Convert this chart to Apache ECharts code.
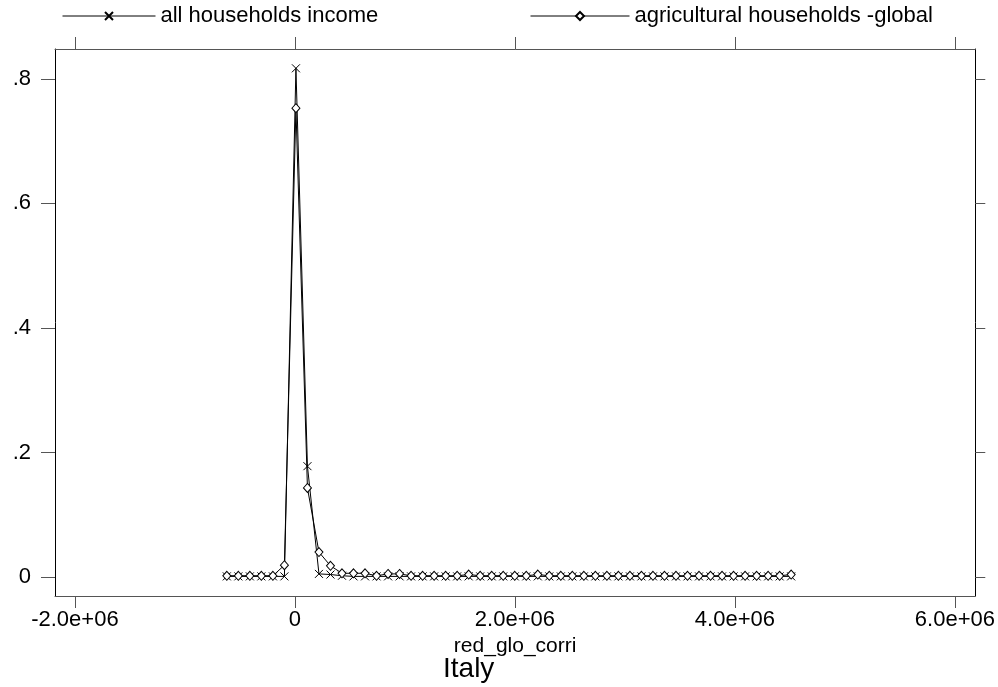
<!DOCTYPE html>
<html>
<head>
<meta charset="utf-8">
<script src="https://cdn.jsdelivr.net/npm/echarts@6/dist/echarts.min.js"></script>
<style>
  html, body { margin: 0; padding: 0; background: #fff; }
  #chart { width: 998px; height: 687px; }
</style>
</head>
<body>
<div id="chart"></div>
<script>
// red_glo_corri bin midpoints
var binX = [
    -619000, -514300, -409600, -304900, -200200, -95500, 9200, 113900, 218600, 323300,
    428000, 532700, 637400, 742100, 846800, 951500, 1056200, 1160900, 1265600, 1370300,
    1475000, 1579700, 1684400, 1789100, 1893800, 1998500, 2103200, 2207900, 2312600, 2417300,
    2522000, 2626700, 2731400, 2836100, 2940800, 3045500, 3150200, 3254900, 3359600, 3464300,
    3569000, 3673700, 3778400, 3883100, 3987800, 4092500, 4197200, 4301900, 4406600, 4511300
];
var allIncome = [
    0.001, 0.001, 0.001, 0.001, 0.001, 0.001, 0.817, 0.178, 0.005, 0.004,
    0.002, 0.001, 0.001, 0.001, 0.001, 0.001, 0.001, 0.001, 0.001, 0.001,
    0.001, 0.001, 0.001, 0.001, 0.001, 0.001, 0.001, 0.001, 0.001, 0.001,
    0.001, 0.001, 0.001, 0.001, 0.001, 0.001, 0.001, 0.001, 0.001, 0.001,
    0.001, 0.001, 0.001, 0.001, 0.001, 0.001, 0.001, 0.001, 0.001, 0.001
];
var agriGlobal = [
    0.002, 0.002, 0.002, 0.002, 0.002, 0.019, 0.753, 0.143, 0.040, 0.018,
    0.006, 0.006, 0.006, 0.002, 0.005, 0.005, 0.002, 0.002, 0.002, 0.002,
    0.002, 0.004, 0.002, 0.002, 0.002, 0.002, 0.002, 0.004, 0.002, 0.002,
    0.002, 0.002, 0.002, 0.002, 0.002, 0.002, 0.002, 0.002, 0.002, 0.002,
    0.002, 0.002, 0.002, 0.002, 0.002, 0.002, 0.002, 0.002, 0.002, 0.004
];
var xTicks = [-2000000, 0, 2000000, 4000000, 6000000];
var yTicks = [0, 0.2, 0.4, 0.6, 0.8];

var font = 'Liberation Sans, Arial, Helvetica, sans-serif';

function pairs(xs, ys) {
    var out = [];
    for (var i = 0; i < xs.length; i++) {
        out.push([xs[i], ys[i]]);
    }
    return out;
}

function fmtX(v) {
    if (v === 0) return '0';
    return (v / 1e6).toFixed(1) + 'e+06';
}
function fmtY(v) {
    if (v === 0) return '0';
    return String(+v.toFixed(1)).replace(/^0/, '');
}

var crossPath = 'path://M0,0L10,10M10,0L0,10';

var myChart = echarts.init(document.getElementById('chart'));
var option = {
    backgroundColor: '#fff',
    animation: false,
    textStyle: { fontFamily: font },
    title: {
        text: 'Italy',
        left: 438,
        top: 650,
        textStyle: { fontFamily: font, fontSize: 28, fontWeight: 'normal', color: '#000' }
    },
    legend: [
        {
            data: ['all households income'],
            left: 57,
            top: 0,
            itemWidth: 93,
            itemHeight: 10,
            lineStyle: { width: 1 },
            textStyle: { fontFamily: font, fontSize: 22, color: '#000' }
        },
        {
            data: ['agricultural households -global'],
            left: 525,
            top: 0,
            itemWidth: 99,
            itemHeight: 10,
            lineStyle: { width: 1 },
            textStyle: { fontFamily: font, fontSize: 22, color: '#000' }
        }
    ],
    grid: { left: 55, right: 9, top: 49, bottom: 91, containLabel: false },
    xAxis: [
        {
            type: 'value',
            position: 'bottom',
            min: -2181000,
            max: 6185000,
            name: 'red_glo_corri',
            nameLocation: 'middle',
            nameGap: 35,
            nameTextStyle: { fontFamily: font, fontSize: 21, color: '#000' },
            splitLine: { show: false },
            axisLine: { show: true, onZero: false, lineStyle: { color: '#555', width: 1 } },
            axisTick: { show: true, inside: false, length: 12, lineStyle: { color: '#555' }, customValues: xTicks },
            axisLabel: { margin: 13, fontSize: 22, color: '#000', fontFamily: font, customValues: xTicks, formatter: fmtX }
        },
        {
            type: 'value',
            position: 'top',
            min: -2181000,
            max: 6185000,
            splitLine: { show: false },
            axisLine: { show: true, onZero: false, lineStyle: { color: '#555', width: 1 } },
            axisTick: { show: true, inside: false, length: 12, lineStyle: { color: '#555' }, customValues: xTicks },
            axisLabel: { show: false }
        }
    ],
    yAxis: [
        {
            type: 'value',
            position: 'left',
            min: -0.0305,
            max: 0.848,
            splitLine: { show: false },
            axisLine: { show: true, onZero: false, lineStyle: { color: '#000', width: 1 } },
            axisTick: { show: true, inside: false, length: 14, lineStyle: { color: '#555' }, customValues: yTicks },
            axisLabel: { margin: 24, fontSize: 22, color: '#000', fontFamily: font, customValues: yTicks, formatter: fmtY }
        },
        {
            type: 'value',
            position: 'right',
            min: -0.0305,
            max: 0.848,
            splitLine: { show: false },
            axisLine: { show: true, onZero: false, lineStyle: { color: '#000', width: 1 } },
            axisTick: { show: true, inside: false, length: 10, lineStyle: { color: '#555' }, customValues: yTicks },
            axisLabel: { show: false }
        }
    ],
    series: [
        {
            name: 'all households income',
            type: 'line',
            data: pairs(binX, allIncome),
            symbol: crossPath,
            symbolSize: 8,
            showAllSymbol: true,
            lineStyle: { color: '#000', width: 1 },
            itemStyle: { color: '#000', borderColor: '#000', borderWidth: 1 }
        },
        {
            name: 'agricultural households -global',
            type: 'line',
            data: pairs(binX, agriGlobal),
            symbol: 'diamond',
            symbolSize: [8, 9],
            showAllSymbol: true,
            lineStyle: { color: '#000', width: 1 },
            itemStyle: { color: '#fff', borderColor: '#000', borderWidth: 1 }
        }
    ]
};
myChart.setOption(option);
</script>
</body>
</html>
